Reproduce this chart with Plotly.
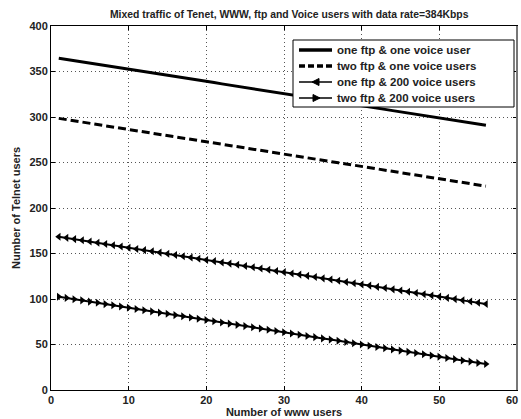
import plotly.graph_objects as go

www_users = list(range(1, 57))

one_ftp_one_voice = [364.5, 363.2, 361.8, 360.5, 359.2, 357.8, 356.5, 355.1, 353.8, 352.5,
                     351.1, 349.8, 348.5, 347.1, 345.8, 344.5, 343.1, 341.8, 340.4, 339.1,
                     337.8, 336.4, 335.1, 333.8, 332.4, 331.1, 329.7, 328.4, 327.1, 325.7,
                     324.4, 323.1, 321.7, 320.4, 319.1, 317.7, 316.4, 315.0, 313.7, 312.4,
                     311.0, 309.7, 308.4, 307.0, 305.7, 304.4, 303.0, 301.7, 300.3, 299.0,
                     297.7, 296.3, 295.0, 293.7, 292.3, 291.0]
two_ftp_one_voice = [298.5, 297.1, 295.8, 294.4, 293.1, 291.7, 290.4, 289.0, 287.7, 286.3,
                     285.0, 283.6, 282.3, 280.9, 279.5, 278.2, 276.8, 275.5, 274.1, 272.8,
                     271.4, 270.1, 268.7, 267.4, 266.0, 264.6, 263.3, 261.9, 260.6, 259.2,
                     257.9, 256.5, 255.2, 253.8, 252.5, 251.1, 249.7, 248.4, 247.0, 245.7,
                     244.3, 243.0, 241.6, 240.3, 238.9, 237.6, 236.2, 234.8, 233.5, 232.1,
                     230.8, 229.4, 228.1, 226.7, 225.4, 224.0]
one_ftp_200_voice = [168.5, 167.2, 165.8, 164.5, 163.1, 161.8, 160.4, 159.1, 157.7, 156.4,
                     155.0, 153.7, 152.4, 151.0, 149.7, 148.3, 147.0, 145.6, 144.3, 142.9,
                     141.6, 140.2, 138.9, 137.6, 136.2, 134.9, 133.5, 132.2, 130.8, 129.5,
                     128.1, 126.8, 125.4, 124.1, 122.7, 121.4, 120.1, 118.7, 117.4, 116.0,
                     114.7, 113.3, 112.0, 110.6, 109.3, 107.9, 106.6, 105.3, 103.9, 102.6,
                     101.2, 99.9, 98.5, 97.2, 95.8, 94.5]
two_ftp_200_voice = [102.5, 101.2, 99.8, 98.5, 97.1, 95.8, 94.4, 93.1, 91.7, 90.4,
                     89.0, 87.7, 86.4, 85.0, 83.7, 82.3, 81.0, 79.6, 78.3, 76.9,
                     75.6, 74.2, 72.9, 71.6, 70.2, 68.9, 67.5, 66.2, 64.8, 63.5,
                     62.1, 60.8, 59.4, 58.1, 56.7, 55.4, 54.1, 52.7, 51.4, 50.0,
                     48.7, 47.3, 46.0, 44.6, 43.3, 41.9, 40.6, 39.3, 37.9, 36.6,
                     35.2, 33.9, 32.5, 31.2, 29.8, 28.5]

series_names = ["one ftp & one voice user", "two ftp & one voice users",
                "one ftp & 200 voice users", "two ftp & 200 voice users"]

x_ticks = [0, 10, 20, 30, 40, 50, 60]
y_ticks = [0, 50, 100, 150, 200, 250, 300, 350, 400]

title_text = "Mixed traffic of Tenet, WWW, ftp and Voice users with data rate=384Kbps"
x_title = "Number of www users"
y_title = "Number of Telnet users"

FONT = "Liberation Sans, Arial, sans-serif"

# plot area in pixels
PL, PR, PT, PB = 51, 517, 26, 390


def px(xp):
    return (xp - PL) / (PR - PL)


def py(yp):
    return (PB - yp) / (PB - PT)


DASH = "8px,4px"
styles = [
    dict(mode="lines", line=dict(color="black", width=3)),
    dict(mode="lines", line=dict(color="black", width=3, dash=DASH)),
    dict(mode="lines+markers", line=dict(color="black", width=2),
         marker=dict(symbol="triangle-left", size=7, color="black")),
    dict(mode="lines+markers", line=dict(color="black", width=2),
         marker=dict(symbol="triangle-right", size=7, color="black")),
]
series = [one_ftp_one_voice, two_ftp_one_voice, one_ftp_200_voice, two_ftp_200_voice]

fig = go.Figure()
for name, vals, st in zip(series_names, series, styles):
    fig.add_trace(go.Scatter(x=www_users, y=vals, name=name, showlegend=False, **st))

# right frame edge (grey, as in the original)
shapes = [dict(type="line", xref="paper", yref="paper", x0=1, x1=1, y0=0, y1=1,
               line=dict(color="#777", width=2), layer="above")]
# legend drawn as decoration (box, samples, labels)
shapes.append(dict(type="rect", xref="paper", yref="paper", x0=px(293), x1=px(514),
                   y0=py(107), y1=py(40), line=dict(color="black", width=1),
                   fillcolor="white", layer="above"))
annotations = []
rows = [50, 66, 82, 98]
dashes = ["solid", "6px,3px", "solid", "solid"]
widths = [3.5, 3.5, 1.5, 1.5]
for i, (name, yr) in enumerate(zip(series_names, rows)):
    shapes.append(dict(type="line", xref="paper", yref="paper", x0=px(299), x1=px(332),
                       y0=py(yr), y1=py(yr),
                       line=dict(color="black", width=widths[i], dash=dashes[i]),
                       layer="above"))
    if i == 2:
        path = f"M {px(312)} {py(yr)} L {px(319)} {py(yr - 3.5)} L {px(319)} {py(yr + 3.5)} Z"
    elif i == 3:
        path = f"M {px(320)} {py(yr)} L {px(313)} {py(yr - 3.5)} L {px(313)} {py(yr + 3.5)} Z"
    else:
        path = None
    if path:
        shapes.append(dict(type="path", xref="paper", yref="paper", path=path,
                           fillcolor="black", line=dict(color="black", width=1),
                           layer="above"))
    annotations.append(dict(text=name, xref="paper", yref="paper", x=px(335), y=py(yr),
                            xanchor="left", yanchor="middle", showarrow=False,
                            font=dict(family=FONT, size=11.5, color="#222", weight="bold")))

# last x tick label (sits at the page edge in the original)
annotations.append(dict(text=str(x_ticks[-1]), xref="x", yref="paper", x=x_ticks[-1], y=0,
                        xanchor="right", yanchor="top", xshift=3, yshift=-2,
                        showarrow=False,
                        font=dict(family=FONT, size=11, color="#222", weight="bold")))

axis_common = dict(
    showgrid=True, gridcolor="#555", griddash="1px,3px", gridwidth=1,
    showline=True, linecolor="black", linewidth=1, mirror="ticks",
    ticks="inside", ticklen=4, tickcolor="black", zeroline=False,
    tickfont=dict(family=FONT, size=11, color="#222", weight="bold"),
)

fig.update_layout(
    width=521, height=419,
    margin=dict(l=PL, r=521 - PR, t=PT, b=419 - PB),
    paper_bgcolor="white", plot_bgcolor="white",
    title=dict(text=title_text, x=(PL + PR) / 2 / 521 + 0.01, xanchor="center",
               y=1 - 14 / 419, yanchor="middle",
               font=dict(family=FONT, size=10.4, color="#222", weight="bold")),
    xaxis=dict(range=[0, 60], tickvals=x_ticks,
               title=dict(text=x_title, standoff=2,
                          font=dict(family=FONT, size=11, color="#222", weight="bold")),
               **axis_common),
    yaxis=dict(range=[0, 400], tickvals=y_ticks,
               title=dict(text=y_title, standoff=6,
                          font=dict(family=FONT, size=11, color="#222", weight="bold")),
               **axis_common),
    shapes=shapes,
    annotations=annotations,
    showlegend=False,
)

fig.write_html("out.html")
